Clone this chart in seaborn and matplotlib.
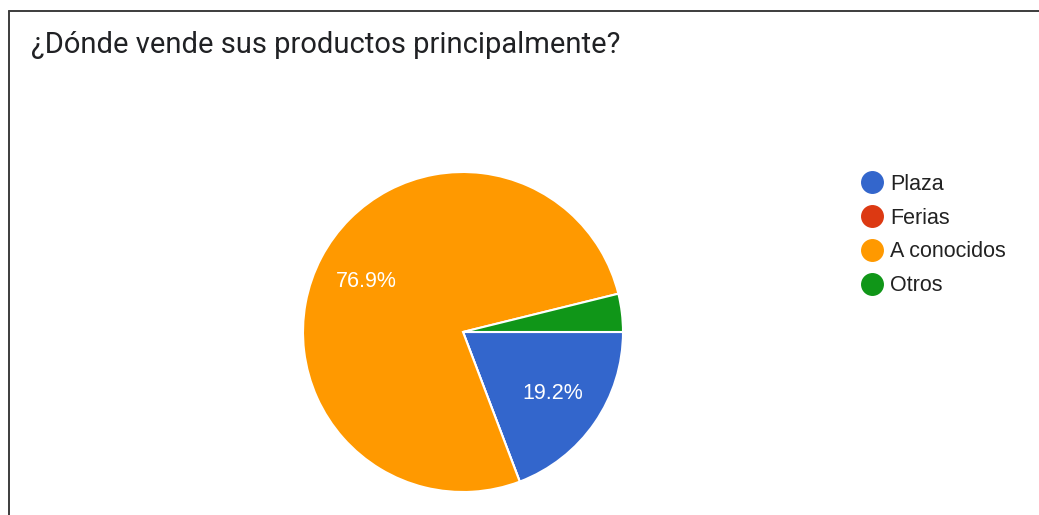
import matplotlib
matplotlib.use("Agg")
import matplotlib.pyplot as plt
from matplotlib.lines import Line2D
import seaborn as sns

# Survey answers (response counts)
categories = ["Plaza", "Ferias", "A conocidos", "Otros"]
counts = [5, 0, 20, 1]
colors = ["#3366cc", "#dc3912", "#ff9900", "#109618"]
title = "¿Dónde vende sus productos principalmente?"

sns.set_theme(style="white")
plt.rcParams["font.family"] = ["Liberation Sans", "DejaVu Sans"]

W, H = 1039, 515
fig = plt.figure(figsize=(W / 100, H / 100), dpi=100)
fig.patch.set_facecolor("white")

# Card border (left and top edges)
fig.add_artist(Line2D([9 / W, 9 / W], [0, 1 - 11 / H], color="#3c3c3c", lw=1.4,
                      transform=fig.transFigure))
fig.add_artist(Line2D([9 / W, 1], [1 - 11 / H, 1 - 11 / H], color="#3c3c3c", lw=1.4,
                      transform=fig.transFigure))

fig.text(31 / W, 1 - 45 / H, title, fontsize=21, color="#202124",
         family=["Roboto", "DejaVu Sans"], va="center", ha="left")

# Pie axes: centre at (463, 332) px, radius 160 px
cx, cy, r = 463, 332, 160
ax = fig.add_axes([(cx - r) / W, (H - cy - r) / H, 2 * r / W, 2 * r / H])


def pct_label(p):
    return f"{p:.1f}%" if p >= 5 else ""


wedges, texts, autotexts = ax.pie(
    counts, colors=colors, startangle=0, counterclock=False,
    autopct=pct_label, pctdistance=0.68, radius=1.0,
    wedgeprops=dict(edgecolor="white", linewidth=1.5),
    textprops=dict(color="white", fontsize=15.5),
)
for w in wedges:
    w.set_clip_on(False)
ax.set_xlim(-1, 1)
ax.set_ylim(-1, 1)
ax.set_aspect("equal")
ax.axis("off")

# Legend
handles = [Line2D([0], [0], marker="o", linestyle="", markersize=15.5,
                  markerfacecolor=c, markeredgecolor=c) for c in colors]
fig.legend(handles, categories, loc="upper left",
           bbox_to_anchor=(859 / W, 1 - 174 / H), frameon=False,
           fontsize=15.5, labelspacing=0.59, handletextpad=0.25,
           handlelength=1.2, borderaxespad=0, borderpad=0,
           labelcolor="#222222")

fig.savefig("out.png", dpi=100)
